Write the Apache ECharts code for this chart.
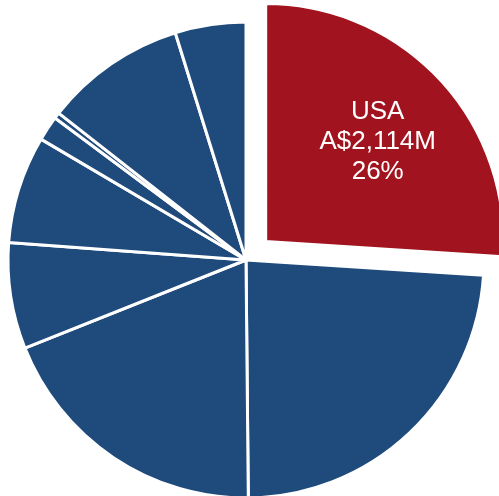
<!DOCTYPE html>
<html>
<head>
<meta charset="utf-8">
<style>
  html, body { margin: 0; padding: 0; background: #ffffff; }
  #chart { width: 499px; height: 496px; }
</style>
<script src="https://cdn.jsdelivr.net/npm/echarts@6/dist/echarts.min.js"></script>
</head>
<body>
<div id="chart"></div>
<script>
// Export values by market, A$ millions, listed clockwise from 12 o'clock
const markets = ['USA', 'China', 'Japan', 'UK', 'New Zealand', 'Singapore', 'Hong Kong', 'Europe', 'Other'];
const valuesAUDm = [2114, 1935, 1553, 585, 594, 138, 33, 781, 390];
const highlightMarket = 'USA';

const RED = '#A1131E';
const BLUE = '#1F4A7C';

const fmt = new Intl.NumberFormat('en-US');

const data = markets.map((name, i) => {
  const hl = name === highlightMarket;
  return {
    name,
    value: valuesAUDm[i],
    selected: hl,
    itemStyle: { color: hl ? RED : BLUE },
    label: { show: hl }
  };
});

const chart = echarts.init(document.getElementById('chart'));
chart.setOption({
  animation: false,
  series: [{
    type: 'pie',
    center: [246, 260],
    radius: [0, 238],
    startAngle: 90,
    clockwise: true,
    selectedMode: 'single',
    selectedOffset: 27,
    percentPrecision: 0,
    avoidLabelOverlap: false,
    itemStyle: { borderColor: '#ffffff', borderWidth: 3 },
    emphasis: { disabled: true },
    label: {
      position: 'inside',
      color: '#ffffff',
      fontFamily: 'Liberation Sans, Arial, sans-serif',
      fontSize: 26,
      lineHeight: 30,
      align: 'center',
      verticalAlign: 'middle',
      // left padding nudges the block to the right; the trailing spacer line lifts it
      padding: [0, 0, 0, 46],
      formatter: p => p.name + '\nA$' + fmt.format(p.value) + 'M\n' + p.percent + '%\n{gap| }',
      rich: { gap: { lineHeight: 32, fontSize: 10 } }
    },
    labelLine: { show: false },
    data
  }]
});
</script>
</body>
</html>
